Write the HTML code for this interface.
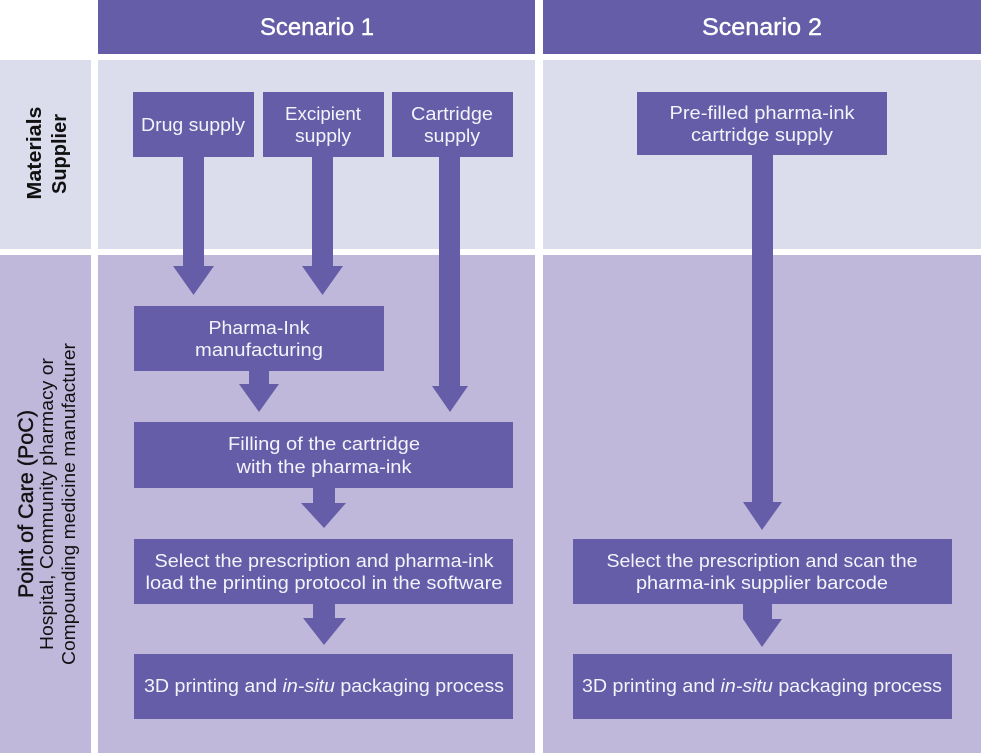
<!DOCTYPE html>
<html>
<head>
<meta charset="utf-8">
<style>
html,body{margin:0;padding:0;background:#fff;width:981px;height:753px;overflow:hidden}
svg{display:block}
text{font-family:"Liberation Sans",sans-serif}
.w{fill:#f4f3fa;font-size:18px;text-anchor:middle}
.p{fill:#655da8}
.k{fill:#111;text-anchor:middle}
</style>
</head>
<body>
<svg width="981" height="753" viewBox="0 0 981 753" xmlns="http://www.w3.org/2000/svg">
<rect width="981" height="753" fill="#fff"/>
<rect class="p" x="98" y="0" width="437" height="54"/>
<rect class="p" x="543" y="0" width="438" height="54"/>
<rect x="0" y="60" width="91" height="189" fill="#dcddec"/>
<rect x="98" y="60" width="437" height="189" fill="#dcddec"/>
<rect x="543" y="60" width="438" height="189" fill="#dcddec"/>
<rect x="0" y="255" width="91" height="498" fill="#bfb8db"/>
<rect x="98" y="255" width="437" height="498" fill="#bfb8db"/>
<rect x="543" y="255" width="438" height="498" fill="#bfb8db"/>

<!-- connectors -->
<polygon class="p" points="183,150 204,150 204,266 214,266 193.500,295 173,266 183,266"/>
<polygon class="p" points="312,150 333,150 333,266 343,266 322.500,295 302,266 312,266"/>
<polygon class="p" points="439,150 460,150 460,386 468,386 450,412 432,386 439,386"/>
<polygon class="p" points="249,365 269,365 269,384 279,384 259,412 239,384 249,384"/>
<polygon class="p" points="313,482 335,482 335,503 346,503 324,528 301,503 313,503"/>
<polygon class="p" points="313,598 335,598 335,618 346,618 324,645 303,618 313,618"/>
<polygon class="p" points="752,150 773,150 773,502 782,502 762,530 743,502 752,502"/>
<polygon class="p" points="743,600 772,600 772,619 782,619 762,647 743,619"/>

<!-- boxes -->
<rect class="p" x="133" y="92" width="121" height="65"/>
<rect class="p" x="263" y="92" width="121" height="65"/>
<rect class="p" x="392" y="92" width="121" height="65"/>
<rect class="p" x="637" y="92" width="250" height="63"/>
<rect class="p" x="134" y="306" width="250" height="65"/>
<rect class="p" x="134" y="422" width="379" height="66"/>
<rect class="p" x="134" y="539" width="379" height="65"/>
<rect class="p" x="134" y="654" width="379" height="65"/>
<rect class="p" x="573" y="539" width="379" height="65"/>
<rect class="p" x="573" y="654" width="379" height="65"/>

<!-- headers -->
<text class="w" x="317" y="35" style="font-size:24px;fill:#fff;stroke:#fff;stroke-width:.4" textLength="114" lengthAdjust="spacingAndGlyphs">Scenario 1</text>
<text class="w" x="762" y="35" style="font-size:24px;fill:#fff;stroke:#fff;stroke-width:.4" textLength="120" lengthAdjust="spacingAndGlyphs">Scenario 2</text>

<!-- box labels -->
<text class="w" x="193" y="131" textLength="104" lengthAdjust="spacingAndGlyphs">Drug supply</text>
<text class="w" x="323" y="120" textLength="76" lengthAdjust="spacingAndGlyphs">Excipient</text>
<text class="w" x="323" y="142" textLength="56" lengthAdjust="spacingAndGlyphs">supply</text>
<text class="w" x="452" y="120" textLength="82" lengthAdjust="spacingAndGlyphs">Cartridge</text>
<text class="w" x="452" y="142" textLength="56" lengthAdjust="spacingAndGlyphs">supply</text>
<text class="w" x="762" y="119" textLength="185" lengthAdjust="spacingAndGlyphs">Pre-filled pharma-ink</text>
<text class="w" x="762" y="141" textLength="142" lengthAdjust="spacingAndGlyphs">cartridge supply</text>
<text class="w" x="259" y="334" textLength="101" lengthAdjust="spacingAndGlyphs">Pharma-Ink</text>
<text class="w" x="259" y="356" textLength="128" lengthAdjust="spacingAndGlyphs">manufacturing</text>
<text class="w" x="324" y="450" textLength="192" lengthAdjust="spacingAndGlyphs">Filling of the cartridge</text>
<text class="w" x="324" y="473" textLength="175" lengthAdjust="spacingAndGlyphs">with the pharma-ink</text>
<text class="w" x="324" y="567" textLength="339" lengthAdjust="spacingAndGlyphs">Select the prescription and pharma-ink</text>
<text class="w" x="324" y="589" textLength="357" lengthAdjust="spacingAndGlyphs">load the printing protocol in the software</text>
<text class="w" x="324" y="692" textLength="360" lengthAdjust="spacingAndGlyphs">3D printing and <tspan font-style="italic">in-situ</tspan> packaging process</text>
<text class="w" x="762" y="567" textLength="311" lengthAdjust="spacingAndGlyphs">Select the prescription and scan the</text>
<text class="w" x="762" y="589" textLength="252" lengthAdjust="spacingAndGlyphs">pharma-ink supplier barcode</text>
<text class="w" x="762" y="692" textLength="360" lengthAdjust="spacingAndGlyphs">3D printing and <tspan font-style="italic">in-situ</tspan> packaging process</text>

<!-- row labels -->
<text class="k" transform="translate(41,153) rotate(-90)" style="font-size:20px;font-weight:bold" textLength="93" lengthAdjust="spacingAndGlyphs">Materials</text>
<text class="k" transform="translate(66,154) rotate(-90)" style="font-size:20px;font-weight:bold" textLength="80" lengthAdjust="spacingAndGlyphs">Supplier</text>
<text class="k" transform="translate(33,504) rotate(-90)" style="font-size:21px;stroke:#111;stroke-width:.4" textLength="188" lengthAdjust="spacingAndGlyphs">Point of Care (PoC)</text>
<text class="k" transform="translate(53,504) rotate(-90)" style="font-size:18px" textLength="292" lengthAdjust="spacingAndGlyphs">Hospital, Community pharmacy or</text>
<text class="k" transform="translate(75,504) rotate(-90)" style="font-size:18px" textLength="322" lengthAdjust="spacingAndGlyphs">Compounding medicine manufacturer</text>
</svg>
</body>
</html>
